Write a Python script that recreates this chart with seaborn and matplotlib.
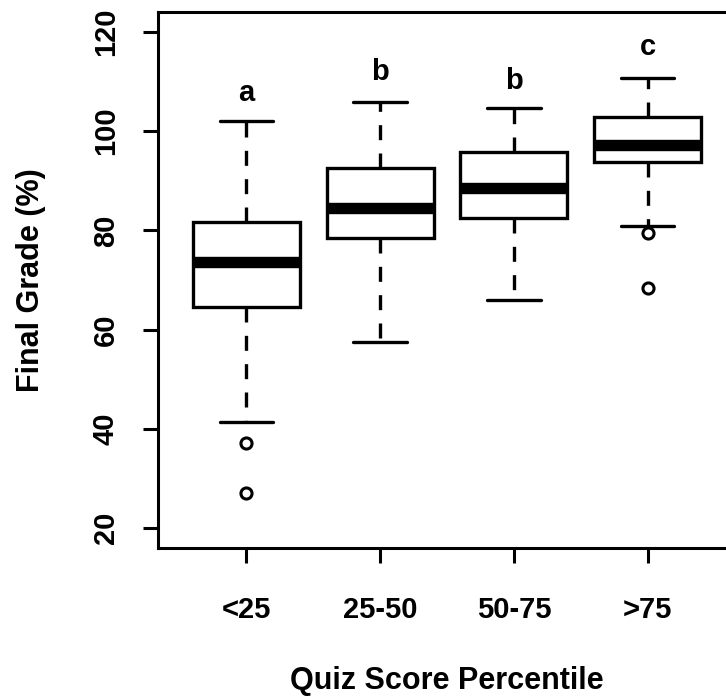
import matplotlib
matplotlib.use("Agg")
import matplotlib.pyplot as plt
import numpy as np
import pandas as pd
import seaborn as sns

# values (five-number summary per group + outliers)
groups = ["<25", "25-50", "50-75", ">75"]
whisker_lo = [41.4, 57.5, 66.0, 80.9]
q1 = [64.6, 78.5, 82.5, 93.8]
median = [73.6, 84.5, 88.5, 97.2]
q3 = [81.7, 92.6, 95.8, 102.9]
whisker_hi = [102.0, 105.9, 104.7, 110.7]
outliers = [[37.1, 27.0], [], [], [79.5, 68.4]]
letters = ["a", "b", "b", "c"]
letter_y = [107.6, 111.9, 110.0, 117.0]


def expand(i):
    # repeat the summary values so that the computed quartiles land exactly on them
    vals = ([whisker_lo[i]] * 20 + [q1[i]] * 40 + [median[i]] * 20
            + [q3[i]] * 40 + [whisker_hi[i]] * 20 + outliers[i])
    return pd.DataFrame({"group": groups[i], "grade": vals})


df = pd.concat([expand(i) for i in range(len(groups))], ignore_index=True)

sns.set_style("white")
plt.rcParams["font.family"] = ["Liberation Sans", "DejaVu Sans"]
plt.rcParams["font.weight"] = "bold"
plt.rcParams["text.color"] = "black"
plt.rcParams["axes.labelcolor"] = "black"
plt.rcParams["xtick.color"] = "black"
plt.rcParams["ytick.color"] = "black"

fig = plt.figure(figsize=(7.26, 7.0), dpi=100)
ax = fig.add_axes([158 / 726, 1 - 548 / 700, 578 / 726, 536 / 700])

sns.boxplot(
    data=df, x="group", y="grade", order=groups, ax=ax,
    color="white", linecolor="black", linewidth=2.4, width=0.8, whis=1.5,
    whiskerprops=dict(linestyle=(0, (4.5, 4)), linewidth=2.4),
    capprops=dict(linewidth=2.4),
    medianprops=dict(linewidth=8.2, color="black"),
    flierprops=dict(marker="o", markerfacecolor="none", markeredgecolor="black",
                    markersize=8, markeredgewidth=2.2),
)

for i, (lab, yy) in enumerate(zip(letters, letter_y)):
    ax.text(i, yy, lab, ha="center", va="center", fontsize=21, fontweight="bold",
            color="black")

ax.set_xlim(-0.66, 3.66)
ax.set_ylim(16, 124)
ax.set_yticks([20, 40, 60, 80, 100, 120])
ax.tick_params(axis="both", bottom=True, left=True, length=10.5, width=2.2,
               colors="black", labelsize=21, direction="out")
ax.tick_params(axis="x", pad=24)
ax.tick_params(axis="y", pad=17)
for t in ax.get_yticklabels():
    t.set_rotation(90)
    t.set_va("center")
    t.set_ha("right")
    t.set_fontweight("bold")
for t in ax.get_xticklabels():
    t.set_fontweight("bold")

ax.set_xlabel("Quiz Score Percentile", fontsize=22, fontweight="bold", labelpad=30)
ax.set_ylabel("Final Grade (%)", fontsize=22, fontweight="bold", labelpad=33)

for s in ax.spines.values():
    s.set_visible(True)
    s.set_linewidth(2.2)
    s.set_color("black")

fig.savefig("out.png", dpi=100)
